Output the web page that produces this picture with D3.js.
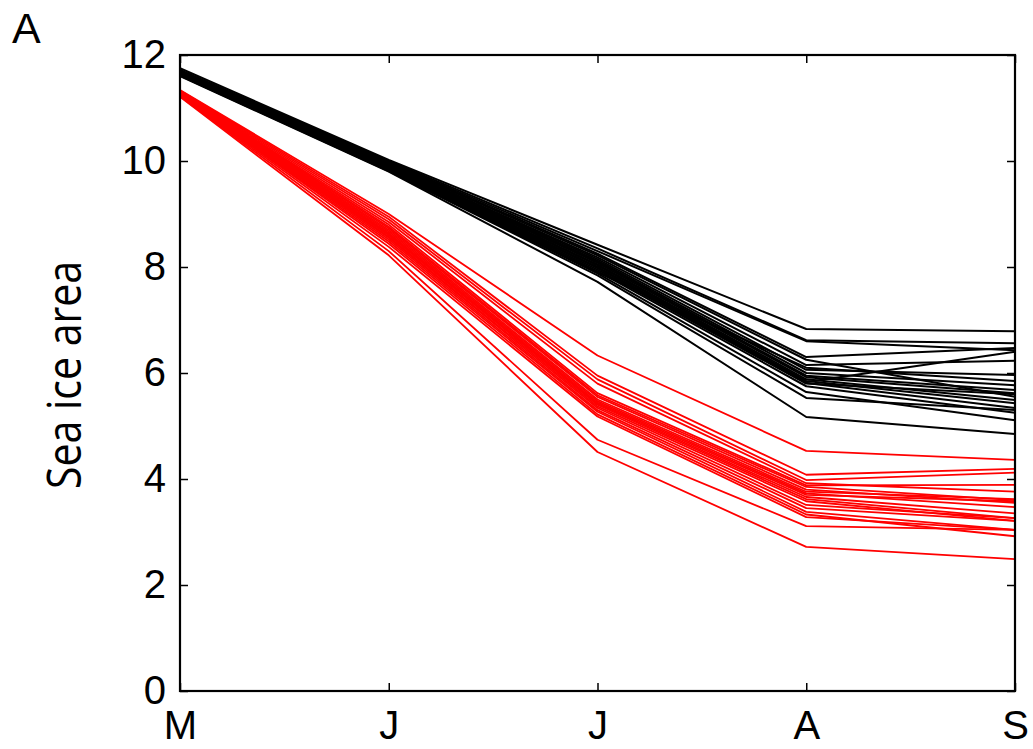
<!DOCTYPE html>
<html>
<head>
<meta charset="utf-8">
<script src="https://cdn.jsdelivr.net/npm/d3@7"></script>
<style>
  html, body { margin: 0; padding: 0; background: #fff; }
  svg { display: block; }
</style>
</head>
<body>
<svg id="chart" width="1033" height="749"></svg>
<script>
// ---- data ----
const months = ["M", "J", "J", "A", "S"];
const yTicks = [0, 2, 4, 6, 8, 10, 12];
const panelLabel = "A";
const yLabel = "Sea ice area";

// black ensemble (values at M, J, J, A, S)
const blackRuns = [
  [11.75, 10.02, 8.42, 6.83, 6.79],
  [11.72, 10.00, 8.35, 6.62, 6.56],
  [11.70, 9.98, 8.30, 6.60, 6.43],
  [11.70, 9.97, 8.25, 6.30, 6.47],
  [11.68, 9.95, 8.22, 6.25, 5.55],
  [11.68, 9.93, 8.18, 6.15, 6.23],
  [11.67, 9.93, 8.15, 6.06, 5.96],
  [11.66, 9.92, 8.12, 6.00, 5.77],
  [11.66, 9.90, 8.10, 5.95, 5.68],
  [11.65, 9.90, 8.08, 5.92, 5.62],
  [11.65, 9.88, 8.05, 5.88, 5.49],
  [11.64, 9.88, 8.03, 5.85, 5.43],
  [11.64, 9.87, 8.00, 5.83, 6.40],
  [11.63, 9.86, 7.98, 5.81, 5.34],
  [11.63, 9.85, 7.95, 5.80, 5.60],
  [11.62, 9.84, 7.92, 5.75, 5.25],
  [11.62, 9.82, 7.88, 5.64, 5.11],
  [11.61, 9.81, 7.84, 5.53, 5.30],
  [11.60, 9.80, 7.72, 5.17, 4.85],
  [11.62, 9.83, 7.90, 6.10, 5.85]
];

// red ensemble (values at M, J, J, A, S)
const redRuns = [
  [11.34, 9.00, 6.33, 4.53, 4.36],
  [11.33, 8.95, 5.95, 4.08, 4.19],
  [11.32, 8.90, 5.88, 3.98, 4.12],
  [11.31, 8.85, 5.80, 3.92, 3.76],
  [11.30, 8.80, 5.62, 3.88, 3.89],
  [11.30, 8.76, 5.58, 3.85, 3.60],
  [11.29, 8.73, 5.55, 3.80, 3.55],
  [11.28, 8.70, 5.50, 3.76, 3.62],
  [11.28, 8.67, 5.47, 3.73, 3.47],
  [11.27, 8.64, 5.44, 3.70, 3.58],
  [11.27, 8.62, 5.42, 3.66, 3.35],
  [11.26, 8.60, 5.40, 3.62, 3.26],
  [11.26, 8.57, 5.37, 3.58, 3.21],
  [11.25, 8.55, 5.34, 3.51, 3.26],
  [11.25, 8.52, 5.30, 3.45, 3.21],
  [11.24, 8.48, 5.27, 3.38, 3.04],
  [11.24, 8.44, 5.22, 3.33, 2.92],
  [11.23, 8.38, 5.18, 3.28, 3.04],
  [11.22, 8.30, 4.74, 3.11, 3.04],
  [11.21, 8.22, 4.51, 2.72, 2.49]
];

// ---- layout ----
const svg = d3.select("#chart");
const mLeft = 180, mRight = 1015, mTop = 55, mBottom = 691;

const x = d3.scaleLinear().domain([0, months.length - 1]).range([mLeft, mRight]);
const y = d3.scaleLinear().domain([0, 12]).range([mBottom, mTop]);

const line = d3.line().x((d, i) => x(i)).y(d => y(d));

// lines
svg.append("g").selectAll("path.black").data(blackRuns).join("path")
  .attr("class", "black")
  .attr("d", line)
  .attr("fill", "none").attr("stroke", "#000").attr("stroke-width", 2)
  .attr("stroke-linejoin", "round");

svg.append("g").selectAll("path.red").data(redRuns).join("path")
  .attr("class", "red")
  .attr("d", line)
  .attr("fill", "none").attr("stroke", "#ff0000").attr("stroke-width", 1.8)
  .attr("stroke-linejoin", "round");

// axes
const fontMain = "'Liberation Sans', Arial, Helvetica, sans-serif";
const tickLen = 8;

const yAxisL = d3.axisLeft(y).tickValues(yTicks).tickSizeInner(-tickLen).tickSizeOuter(0).tickPadding(14);
const yAxisR = d3.axisRight(y).tickValues(yTicks).tickSizeInner(-tickLen).tickSizeOuter(0).tickFormat("");
const xAxisB = d3.axisBottom(x).tickValues(d3.range(months.length)).tickSizeInner(-tickLen).tickSizeOuter(0)
  .tickPadding(20).tickFormat(i => months[i]);
const xAxisT = d3.axisTop(x).tickValues(d3.range(months.length)).tickSizeInner(-tickLen).tickSizeOuter(0).tickFormat("");

function styleAxis(g) {
  g.select(".domain").remove();
  g.selectAll(".tick line").attr("stroke", "#000").attr("stroke-width", 1.5);
  g.selectAll(".tick text").attr("fill", "#000").style("font-family", fontMain).style("font-size", "40px");
}

svg.append("g").attr("transform", `translate(${mLeft},0)`).call(yAxisL).call(styleAxis);
svg.append("g").attr("transform", `translate(${mRight},0)`).call(yAxisR).call(styleAxis);
svg.append("g").attr("transform", `translate(0,${mBottom})`).call(xAxisB).call(styleAxis)
  .selectAll(".tick text").attr("dy", "0.71em");
svg.append("g").attr("transform", `translate(0,${mTop})`).call(xAxisT).call(styleAxis);

// frame
svg.append("rect")
  .attr("x", mLeft).attr("y", mTop).attr("width", mRight - mLeft).attr("height", mBottom - mTop)
  .attr("fill", "none").attr("stroke", "#000").attr("stroke-width", 2.2);

// y label
svg.append("text")
  .attr("transform", `translate(81,${(mTop + mBottom) / 2 + 2}) rotate(-90)`)
  .attr("text-anchor", "middle")
  .attr("textLength", 228).attr("lengthAdjust", "spacingAndGlyphs")
  .style("font-family", "'Open Sans', 'Noto Sans', sans-serif")
  .style("font-size", "47px")
  .attr("fill", "#000")
  .text(yLabel);

// panel label
svg.append("text")
  .attr("x", 12).attr("y", 43)
  .style("font-family", fontMain)
  .style("font-size", "43px")
  .attr("fill", "#000")
  .text(panelLabel);
</script>
</body>
</html>
